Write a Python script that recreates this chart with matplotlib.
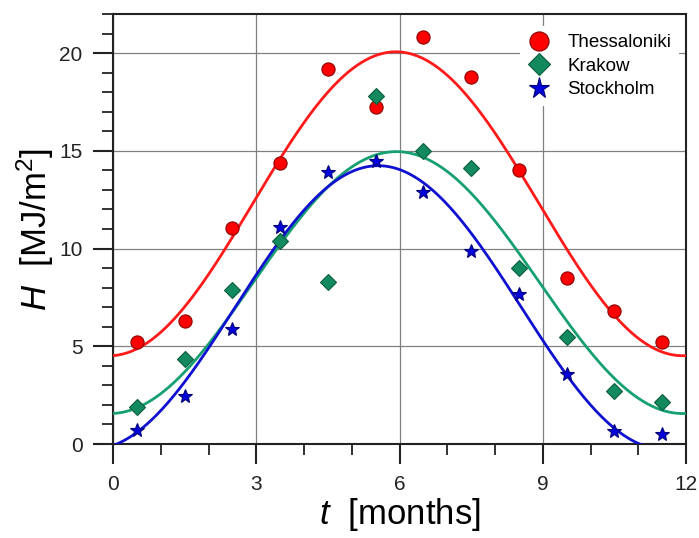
import numpy as np
import matplotlib.pyplot as plt
from matplotlib.ticker import MultipleLocator

plt.rcParams['font.family'] = ['Liberation Sans', 'DejaVu Sans']
plt.rcParams['mathtext.fontset'] = 'custom'
plt.rcParams['mathtext.rm'] = 'Liberation Sans'
plt.rcParams['mathtext.it'] = 'Liberation Sans:italic'

# month midpoints
months = [0.5, 1.5, 2.5, 3.5, 4.5, 5.5, 6.5, 7.5, 8.5, 9.5, 10.5, 11.5]
thessaloniki = [5.2, 6.3, 11.05, 14.4, 19.2, 17.25, 20.8, 18.8, 14.0, 8.5, 6.8, 5.2]
krakow = [1.9, 4.35, 7.9, 10.4, 8.3, 17.8, 15.0, 14.1, 9.0, 5.5, 2.7, 2.15]
stockholm = [0.7, 2.45, 5.9, 11.1, 13.9, 14.5, 12.9, 9.9, 7.7, 3.6, 0.65, 0.5]

names = ['Thessaloniki', 'Krakow', 'Stockholm']
markers = ['o', 'D', '*']
msizes = [9.5, 8, 10.5]
face = ['#ff0000', '#128a5e', '#0000dd']
edge = ['#8b0000', '#0b5e3e', '#00007a']
lines = ['#ff1a1a', '#16a070', '#1010d0']


def sine_fit(t, y, period=12.0):
    # least squares fit y = a + b*cos(wt) + c*sin(wt)
    t = np.asarray(t)
    w = 2 * np.pi / period
    A = np.column_stack([np.ones_like(t), np.cos(w * t), np.sin(w * t)])
    coef, *_ = np.linalg.lstsq(A, np.asarray(y), rcond=None)
    return lambda x: coef[0] + coef[1] * np.cos(w * x) + coef[2] * np.sin(w * x)


fig = plt.figure(figsize=(6.99, 5.38), dpi=100)
ax = fig.add_axes([0.1617, 0.1747, 0.8197, 0.7993])

tt = np.linspace(0, 12, 400)
for data, n, m, ms, fc, ec, lc in zip([thessaloniki, krakow, stockholm],
                                      names, markers, msizes, face, edge, lines):
    f = sine_fit(months, data)
    ax.plot(tt, f(tt), color=lc, lw=2, zorder=3)
    ax.plot(months, data, ls='none', marker=m, ms=ms, mfc=fc, mec=ec,
            mew=0.8, label=n, zorder=4)

ax.set_xlim(0, 12)
ax.set_ylim(0, 22)
ax.xaxis.set_major_locator(MultipleLocator(3))
ax.xaxis.set_minor_locator(MultipleLocator(1))
ax.yaxis.set_major_locator(MultipleLocator(5))
ax.yaxis.set_minor_locator(MultipleLocator(1))
ax.grid(True, which='major', color='#808080', lw=0.9)
ax.set_axisbelow(True)

ax.tick_params(which='major', direction='out', length=14.5, width=1.5,
               labelsize=15, pad=7.5, colors='#222222', labelcolor='#222222')
ax.tick_params(which='minor', direction='out', length=8, width=1.3,
               colors='#222222')
for s in ax.spines.values():
    s.set_linewidth(1.5)
    s.set_color('#222222')

ax.set_xlabel('$t$  [months]', fontsize=25, labelpad=2)
ax.set_ylabel('$H$  [MJ/m$^2$]', fontsize=25, labelpad=2)

leg = ax.legend(loc='upper right', bbox_to_anchor=(0.987, 0.971),
                fontsize=13.5, frameon=True,
                facecolor='white', edgecolor='none', framealpha=1,
                handletextpad=0.9, borderaxespad=0, labelspacing=0.35,
                handlelength=1.2, markerscale=1.45)

fig.savefig('out.png', dpi=100)
